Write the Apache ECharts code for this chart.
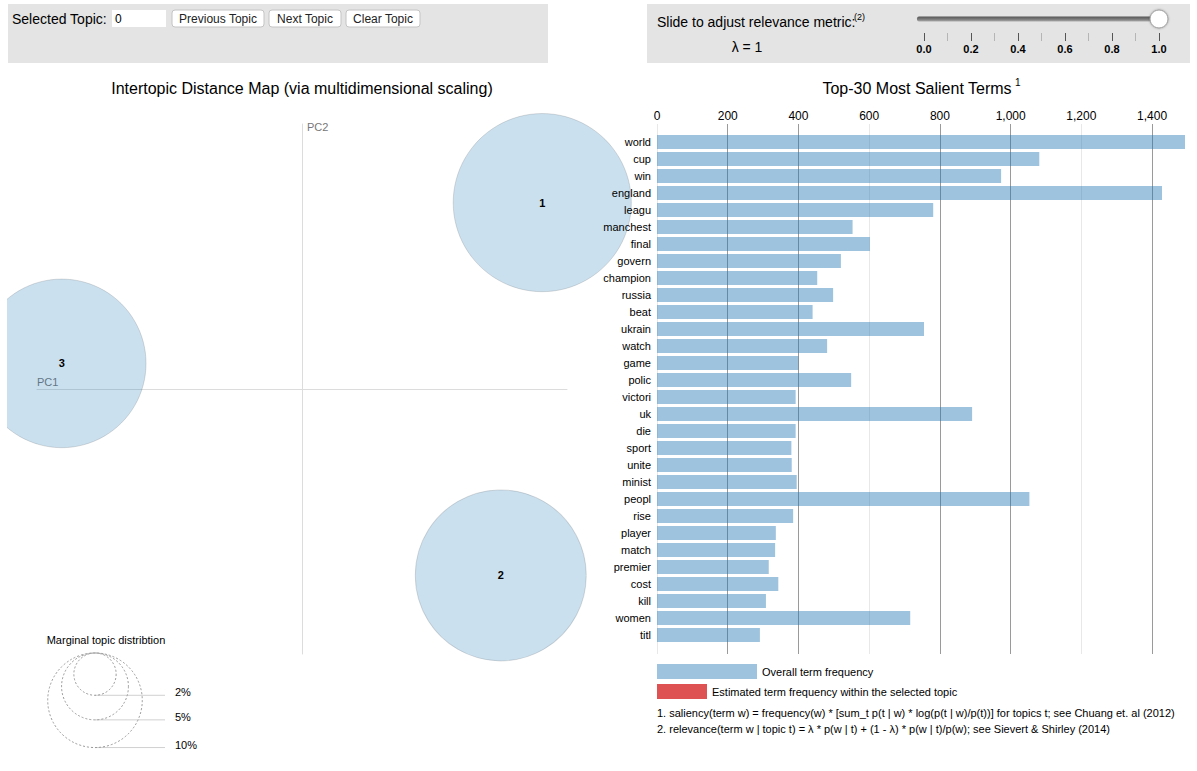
<!DOCTYPE html>
<html><head><meta charset="utf-8">
<script src="https://cdn.jsdelivr.net/npm/echarts@6/dist/echarts.min.js"></script>
<style>html,body{margin:0;padding:0;background:#fff}#c{width:1197px;height:771px}</style>
</head><body><div id="c"></div>
<script>
// ---- data ----
const terms = ['world','cup','win','england','leagu','manchest','final','govern','champion','russia','beat','ukrain','watch','game','polic','victori','uk','die','sport','unite','minist','peopl','rise','player','match','premier','cost','kill','women','titl'];
const termFreq = [1493,1081,973,1428,781,553,602,520,453,498,440,755,481,400,549,392,891,392,380,381,395,1053,385,336,334,316,343,308,716,291];
const topicIds = [1,2,3];
const topicPC1 = [0.272, 0.225, -0.272];
const topicPC2 = [0.211, -0.211, 0.029];
const topicFreq = [35.5, 32.7, 31.8];          // marginal topic distribution, %
const legendPcts = [2, 5, 10];
const lambdaValue = 1;
const selectedTopic = '0';
const buttons = ['Previous Topic','Next Topic','Clear Topic'];
const footnotes = [
  '1. saliency(term w) = frequency(w) * [sum_t p(t | w) * log(p(t | w)/p(t))] for topics t; see Chuang et. al (2012)',
  '2. relevance(term w | topic t) = \u03bb * p(w | t) + (1 - \u03bb) * p(w | t)/p(w); see Sievert & Shirley (2014)'
];

// ---- styles / layout ----
const FF = '"Liberation Sans", Arial, Helvetica, sans-serif';
const MDS = 530;
const radius = p => (MDS / 2) * Math.sqrt(p / 100 / Math.PI);
const maxFreq = Math.max(...termFreq);
const BLUE = 'rgba(31,119,180,0.44)';

function txt(text, x, y, o) {
  o = o || {};
  return {type:'text', z: o.z || 5, style:{text, x, y, fill:o.color||'#000', fontSize:o.size||11,
    fontWeight:o.weight||'normal', fontFamily:FF, align:o.align||'left', verticalAlign:o.va||'middle'}};
}
function rect(x, y, w, h, style, z, r) {
  return {type:'rect', z: z === undefined ? 1 : z, shape:{x, y, width:w, height:h, r: r||0}, style};
}

const graphic = [];
// top-left control panel
graphic.push(rect(8, 4, 540, 59, {fill:'#e4e4e4'}, -10));
graphic.push(txt('Selected Topic:', 12, 19, {size:14}));
graphic.push(rect(112, 10, 54, 17, {fill:'#fff'}, 1));
graphic.push(txt(selectedTopic, 115, 19, {size:12}));
const btnX = [172, 269, 346], btnW = [92, 72, 74];
buttons.forEach((b, i) => {
  graphic.push(rect(btnX[i], 10, btnW[i], 17, {fill:'#fff', stroke:'#c4c4c4', lineWidth:1}, 1, 3));
  graphic.push(txt(b, btnX[i] + btnW[i] / 2, 19, {size:12, align:'center', color:'#222'}));
});
// top-right control panel
graphic.push(rect(647, 4, 543, 59, {fill:'#e4e4e4'}, -10));
graphic.push(txt('Slide to adjust relevance metric:', 657, 22, {size:14}));
graphic.push(txt('(2)', 854, 17, {size:9}));
graphic.push(txt('\u03bb = ' + lambdaValue, 747, 47, {size:14, align:'center'}));
graphic.push(rect(917, 16.5, 243, 5, {fill:{type:'linear', x:0, y:0, x2:0, y2:1,
  colorStops:[{offset:0, color:'#555'}, {offset:0.5, color:'#777'}, {offset:1, color:'#aaa'}]}}, 1, 2));
// titles
graphic.push(txt('Intertopic Distance Map (via multidimensional scaling)', 302, 88, {size:16, align:'center'}));
graphic.push(txt('Top-30 Most Salient Terms', 917, 88, {size:16, align:'center'}));
graphic.push(txt('1', 1015, 82, {size:10}));
// marginal topic distribution legend
graphic.push(txt('Marginal topic distribtion', 106, 640, {size:11, align:'center'}));
legendPcts.forEach(p => {
  const r = radius(p), top = 653, cx = 95, bottom = top + 2 * r;
  graphic.push({type:'circle', z:3, shape:{cx, cy: top + r, r}, style:{fill:'none', stroke:'#999', lineWidth:1, lineDash:[2,2]}});
  graphic.push({type:'line', z:2, shape:{x1:cx, y1:bottom, x2:165, y2:bottom}, style:{stroke:'#d0d0d0', lineWidth:1}});
  graphic.push(txt(p + '%', 175, bottom - 3, {size:11}));
});
// bar legend + footnotes
graphic.push(rect(657, 664, 100, 15, {fill:BLUE}, 2));
graphic.push(txt('Overall term frequency', 762, 671.5, {size:11}));
graphic.push(rect(657, 684, 50, 15, {fill:'rgba(214,39,40,0.8)'}, 2));
graphic.push(txt('Estimated term frequency within the selected topic', 712, 691.5, {size:11}));
footnotes.forEach((f, i) => graphic.push(txt(f, 657, 713 + 16 * i, {size:11})));
// svg left edge clip
graphic.push(rect(0, 64, 7, 707, {fill:'#fff'}, 100));

const chart = echarts.init(document.getElementById('c'), null, {renderer:'svg'});
chart.setOption({
  animation: false,
  backgroundColor: '#fff',
  textStyle: {fontFamily: FF},
  grid: [
    {left:37, top:124, width:MDS, height:MDS},
    {left:657, top:124, width:528, height:530},
    {left:657, top:133.5, width:528, height:510},
    {left:924, top:19, width:235, height:22}
  ],
  xAxis: [
    {gridIndex:0, type:'value', min:-0.3, max:0.3,
     axisLine:{onZero:true, lineStyle:{color:'#dcdcdc'}}, axisTick:{show:false}, axisLabel:{show:false}, splitLine:{show:false},
     name:'PC1', nameLocation:'start', nameGap:0,
     nameTextStyle:{align:'left', verticalAlign:'bottom', color:'#777', fontSize:11, padding:[0,0,2,0]}},
    {gridIndex:1, type:'value', position:'top', min:0, max:maxFreq, interval:200,
     axisLine:{show:false}, axisTick:{show:false},
     axisLabel:{fontSize:12, color:'#000', margin:2,
       formatter: v => (v % 200 === 0 ? v.toLocaleString('en-US') : '')},
     splitLine:{show:true, showMaxLine:false, lineStyle:{color:['#e8e8e8','#9a9a9a','#9a9a9a'], width:1}}},
    {gridIndex:2, type:'value', min:0, max:maxFreq, show:false},
    {gridIndex:3, type:'value', min:0, max:1, interval:0.2,
     axisLine:{show:false},
     axisTick:{show:true, inside:true, length:8, lineStyle:{color:'#555'}},
     minorTick:{show:true, splitNumber:2, length:8, lineStyle:{color:'#b5b5b5'}},
     axisLabel:{fontSize:11, fontWeight:'bold', color:'#000', margin:2, formatter: v => v.toFixed(1)},
     splitLine:{show:false}}
  ],
  yAxis: [
    {gridIndex:0, type:'value', min:-0.3, max:0.3,
     axisLine:{onZero:true, lineStyle:{color:'#dcdcdc'}}, axisTick:{show:false}, axisLabel:{show:false}, splitLine:{show:false},
     name:'PC2', nameLocation:'end', nameGap:3,
     nameTextStyle:{align:'left', verticalAlign:'top', color:'#777', fontSize:11, padding:[0,0,0,5]}},
    {gridIndex:1, type:'value', min:0, max:1, show:false},
    {gridIndex:2, type:'category', data:terms, inverse:true, z:5,
     axisLine:{show:false}, axisTick:{show:false},
     axisLabel:{fontSize:11, color:'#000', margin:6}},
    {gridIndex:3, type:'value', min:0, max:1, show:false}
  ],
  series: [
    {type:'scatter', xAxisIndex:0, yAxisIndex:0, clip:false, z:2,
     data: topicIds.map((id, i) => ({name:String(id), value:[topicPC1[i], topicPC2[i]], symbolSize: 2 * radius(topicFreq[i])})),
     itemStyle:{color:'rgba(31,119,180,0.23)', borderColor:'rgba(0,0,0,0.13)', borderWidth:1, opacity:1},
     label:{show:true, position:'inside', formatter:'{b}', fontWeight:'bold', fontSize:11, color:'#000'},
     emphasis:{disabled:true}},
    {type:'bar', xAxisIndex:2, yAxisIndex:2, data:termFreq, barWidth:14,
     itemStyle:{color:BLUE}, emphasis:{disabled:true}},
    {type:'scatter', xAxisIndex:3, yAxisIndex:3, clip:false, z:10, data:[[lambdaValue, 1]], symbolSize:18,
     itemStyle:{color:'#fff', borderColor:'#999', borderWidth:1, opacity:1, shadowBlur:2, shadowColor:'rgba(0,0,0,0.3)'},
     emphasis:{disabled:true}}
  ],
  graphic: graphic
});
</script></body></html>
